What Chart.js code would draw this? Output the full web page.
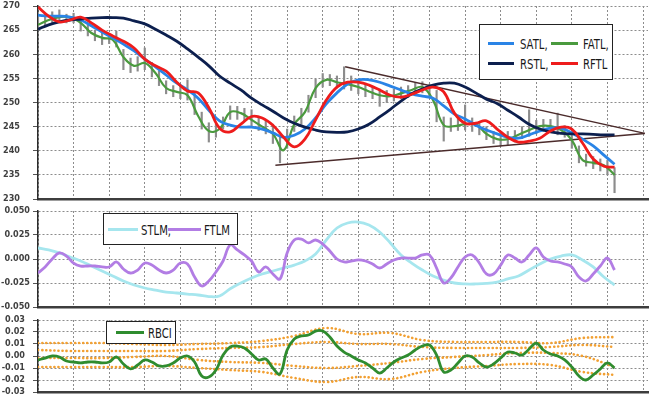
<!DOCTYPE html>
<html>
<head>
<meta charset="utf-8">
<script src="https://cdn.jsdelivr.net/npm/chart.js@4.4.1/dist/chart.umd.min.js"></script>
<style>
  html, body { margin: 0; padding: 0; background: #fff; }
  #wrap { position: relative; width: 650px; height: 397px; overflow: hidden; }
  #wrap canvas { position: absolute; left: 0; }
  .legend {
    position: absolute; background: #fff; border: 1px solid #222; box-sizing: border-box;
    font-family: 'Liberation Sans Narrow', 'DejaVu Sans Condensed', sans-serif;
    font-size: 14px; color: #1a1a1a;
  }
  .item { position: absolute; white-space: nowrap; height: 14px; line-height: 14px; }
  .swatch { position: absolute; top: 5px; height: 3px; }
  .label { position: absolute; top: 0; transform: scaleX(0.8); transform-origin: left center; }
</style>
</head>
<body>
<div id="wrap">
  <canvas id="price" width="650" height="205" style="top:0;"></canvas>
  <canvas id="momentum" width="650" height="107" style="top:205px;"></canvas>
  <canvas id="rbci" width="650" height="85" style="top:312px;"></canvas>

  <div class="legend" style="left:479px;top:24px;width:134px;height:56px;">
    <div class="item" style="left:8px;top:12px;"><span class="swatch" style="left:0;width:26px;background:#2a84e6;"></span><span class="label" style="left:32px;">SATL,</span></div>
    <div class="item" style="left:71px;top:12px;"><span class="swatch" style="left:0;width:27px;background:#4a9a3e;"></span><span class="label" style="left:32px;">FATL,</span></div>
    <div class="item" style="left:8px;top:32px;"><span class="swatch" style="left:0;width:26px;background:#0c1f4e;"></span><span class="label" style="left:32px;">RSTL,</span></div>
    <div class="item" style="left:71px;top:32px;"><span class="swatch" style="left:0;width:27px;background:#ee1c1c;"></span><span class="label" style="left:32px;">RFTL</span></div>
  </div>

  <div class="legend" style="left:103px;top:213px;width:135px;height:32px;">
    <div class="item" style="left:4px;top:9px;"><span class="swatch" style="left:0;width:30px;background:#a6e6ee;"></span><span class="label" style="left:33px;">STLM,</span></div>
    <div class="item" style="left:64px;top:9px;"><span class="swatch" style="left:0;width:33px;background:#b27de4;"></span><span class="label" style="left:36px;">FTLM</span></div>
  </div>

  <div class="legend" style="left:106px;top:321px;width:70px;height:23px;">
    <div class="item" style="left:9px;top:4px;"><span class="swatch" style="left:0;width:28px;background:#2f8c2f;"></span><span class="label" style="left:32px;">RBCI</span></div>
  </div>
</div>

<script>
// ---- price panel (bars every 2 units, lines every 3 units) ----
const BAR_STEP = 2;
const LINE_STEP = 3;
const BAND_STEP = 9;

const PRICE_HIGH = [268.0, 268.5, 268.8, 269.2, 268.3, 268.5, 267.3, 266.2, 265.0, 264.5,
  264.3, 264.8, 261.0, 259.2, 259.5, 261.3, 258.3, 256.5, 254.5, 253.5,
  253.5, 254.7, 252.0, 248.0, 245.8, 245.5, 247.0, 249.3, 249.2, 248.8,
  248.5, 247.0, 246.2, 245.5, 243.0, 244.5, 247.2, 248.8, 251.5, 254.8,
  256.0, 255.8, 255.5, 257.4, 255.5, 254.5, 254.0, 253.2, 252.8, 252.5,
  252.8, 253.2, 253.5, 254.0, 254.3, 253.8, 252.5, 247.0, 246.8, 246.5,
  249.5, 246.8, 246.0, 245.0, 244.0, 243.8, 244.0, 244.2, 245.0, 248.5,
  246.3, 246.5, 246.5, 247.8, 245.2, 244.0, 241.0, 239.3, 238.8, 238.3,
  238.0, 236.5];
const PRICE_LOW = [265.0, 266.0, 266.5, 266.8, 266.5, 266.5, 264.8, 263.8, 262.8, 262.0,
  262.2, 261.5, 256.8, 256.2, 256.5, 256.8, 255.3, 253.5, 251.8, 251.2,
  250.8, 250.5, 247.5, 244.5, 241.8, 242.8, 244.5, 246.5, 246.5, 246.2,
  245.0, 244.2, 243.5, 241.5, 237.5, 240.5, 244.0, 245.5, 248.0, 251.0,
  253.2, 253.5, 253.0, 252.8, 252.5, 251.8, 251.2, 250.8, 249.2, 250.0,
  250.3, 250.8, 251.0, 251.5, 252.0, 251.3, 246.0, 242.0, 244.0, 244.2,
  244.3, 244.0, 243.3, 242.3, 241.5, 241.0, 241.2, 241.8, 242.5, 243.0,
  243.5, 244.0, 244.0, 243.3, 242.8, 240.5, 237.5, 236.8, 236.3, 235.8,
  235.0, 231.3];

const FATL = [266.1, 267.1, 267.7, 267.7, 266.5, 264.4, 263.4, 263.0, 259.4, 257.6,
  258.2, 256.1, 253.0, 252.2, 251.5, 247.2, 244.1, 244.5, 248.0, 247.8,
  246.4, 245.0, 243.5, 240.1, 245.5, 248.0, 253.0, 254.7, 254.2, 253.8,
  253.2, 252.3, 251.5, 251.3, 251.9, 252.6, 253.2, 250.5, 245.3, 245.1,
  245.5, 245.5, 243.5, 242.4, 242.4, 243.3, 244.3, 245.1, 245.1, 244.3,
  242.2, 238.1, 237.5, 237.0, 235.0];
const SATL = [268.1, 267.9, 267.9, 267.7, 267.1, 265.9, 264.6, 263.4, 262.1, 260.7,
  259.0, 257.4, 255.7, 254.0, 252.6, 250.9, 248.4, 246.2, 245.3, 244.9,
  244.9, 244.5, 243.7, 242.8, 243.2, 244.5, 246.8, 249.7, 252.0, 253.8,
  254.7, 254.7, 254.2, 253.4, 252.6, 251.8, 251.3, 250.9, 249.3, 247.6,
  246.6, 245.3, 244.3, 243.5, 242.8, 242.6, 243.3, 244.1, 244.7, 244.7,
  243.7, 242.4, 241.0, 239.1, 237.2];
const RSTL = [265.2, 266.1, 266.7, 267.1, 267.3, 267.5, 267.6, 267.6, 267.5, 266.9,
  266.3, 265.2, 264.0, 262.7, 261.1, 259.4, 257.6, 255.5, 254.0, 252.6,
  250.9, 249.5, 248.2, 246.8, 245.7, 244.9, 244.3, 243.9, 243.8, 243.9,
  244.5, 245.5, 247.0, 248.6, 250.3, 251.8, 252.8, 253.6, 254.0, 254.0,
  253.2, 252.0, 250.7, 249.8, 248.4, 247.0, 245.5, 244.5, 243.9, 243.6,
  243.5, 243.5, 243.4, 243.3, 243.3];
const RFTL = [269.8, 267.9, 266.7, 267.1, 267.7, 266.5, 265.0, 263.8, 262.7, 261.3,
  259.0, 257.6, 256.5, 254.2, 252.4, 252.0, 248.9, 244.7, 243.9, 245.5,
  247.1, 246.8, 245.3, 242.8, 240.8, 242.4, 246.4, 250.5, 253.2, 254.2,
  254.2, 253.6, 252.6, 251.5, 251.1, 251.7, 252.6, 253.2, 252.2, 247.8,
  245.7, 245.7, 246.2, 244.5, 242.8, 241.8, 242.0, 242.6, 244.1, 244.9,
  244.5, 241.6, 238.3, 236.8, 236.6];

// triangle drawn on the price panel: [x, price] end points
const TRI_UPPER = [[86.3, 257.4], [170.5, 243.6]];
const TRI_LOWER = [[66.7, 237.0], [170.5, 243.6]];

// ---- momentum panel ----
const STLM = [0.0115, 0.0094, 0.0063, 0.0021, -0.0021, -0.0073, -0.0125, -0.0177, -0.0229, -0.0271,
  -0.0302, -0.0323, -0.0344, -0.0354, -0.0365, -0.0375, -0.0391, -0.0385, -0.0310, -0.0250,
  -0.0198, -0.0156, -0.0125, -0.0094, -0.0063, -0.0021, 0.0052, 0.0198, 0.0323, 0.0375,
  0.0385, 0.0354, 0.0281, 0.0167, 0.0042, -0.0042, -0.0115, -0.0177, -0.0219, -0.0250,
  -0.0260, -0.0260, -0.0255, -0.0240, -0.0208, -0.0177, -0.0115, -0.0052, 0.0, 0.0031,
  0.0042, -0.0010, -0.0083, -0.0188, -0.0271];
const FTLM = [-0.0146, -0.0083, 0.0, 0.0063, 0.0031, -0.0042, -0.0073, -0.0073, -0.0073, -0.0083,
  -0.0083, -0.0031, -0.0104, -0.0146, -0.0115, -0.0042, -0.0063, -0.0115, -0.0146, -0.0115,
  -0.0042, -0.0052, -0.0188, -0.0281, -0.0229, -0.0135, -0.0021, 0.0146, 0.0094, 0.0042,
  -0.0021, -0.0135, -0.0083, -0.0156, -0.0208, 0.0063, 0.0198, 0.0208, 0.0167, 0.0198,
  0.0156, 0.0083, 0.0, -0.0031, -0.0021, -0.0010, -0.0021, -0.0052, -0.0094, -0.0052,
  -0.0010, 0.0010, 0.0010, 0.0010, 0.0042, 0.0042, -0.0094, -0.0250, -0.0198, -0.0083,
  0.0021, 0.0042, -0.0042, -0.0156, -0.0156, -0.0063, 0.0042, 0.0010, -0.0031, 0.0042,
  0.0115, 0.0021, -0.0021, -0.0031, -0.0052, -0.0083, -0.0188, -0.0229, -0.0156, -0.0073,
  0.0010, -0.0115];

// ---- RBCI panel ----
const RBCI = [-0.0033, -0.0017, 0.0, -0.0008, -0.0042, -0.0050, -0.0058, -0.0050, -0.0050, -0.0058,
  -0.0050, -0.0008, -0.0067, -0.0108, -0.0075, -0.0033, -0.0050, -0.0083, -0.0083, -0.0058,
  -0.0017, 0.0, -0.0050, -0.0167, -0.0175, -0.0117, 0.0008, 0.0075, 0.0083, 0.0067,
  0.0017, -0.0033, -0.0025, -0.0100, -0.0150, 0.0050, 0.0142, 0.0167, 0.0175, 0.0208,
  0.0208, 0.0158, 0.0083, 0.0033, 0.0, -0.0033, -0.0058, -0.0100, -0.0142, -0.0100,
  -0.0050, -0.0017, 0.0008, 0.0050, 0.0083, 0.0092, 0.0008, -0.0133, -0.0117, -0.0058,
  0.0, -0.0008, -0.0058, -0.0092, -0.0067, -0.0017, 0.0033, 0.0025, 0.0008, 0.0058,
  0.0108, 0.0050, 0.0017, 0.0, -0.0033, -0.0092, -0.0167, -0.0200, -0.0158, -0.0108,
  -0.0058, -0.0100];
const BAND_1 = [0.0108, 0.0108, 0.0108, 0.0100, 0.0092, 0.0100, 0.0108, 0.0125, 0.0167, 0.0233,
  0.0183, 0.0192, 0.0133, 0.0117, 0.0117, 0.0117, 0.0108, 0.0150, 0.0158];
const BAND_2 = [0.0050, 0.0042, 0.0042, 0.0042, 0.0042, 0.0058, 0.0067, 0.0075, 0.0100, 0.0117,
  0.0100, 0.0100, 0.0075, 0.0067, 0.0067, 0.0067, 0.0075, 0.0092, 0.0075];
const BAND_3 = [-0.0017, -0.0017, -0.0017, -0.0008, 0.0, -0.0033, -0.0050, -0.0058, -0.0083, -0.0100,
  -0.0083, -0.0058, -0.0025, -0.0008, 0.0008, 0.0025, 0.0025, 0.0, -0.0092];
const BAND_4 = [-0.0092, -0.0092, -0.0092, -0.0092, -0.0083, -0.0100, -0.0117, -0.0133, -0.0183, -0.0217,
  -0.0175, -0.0192, -0.0133, -0.0100, -0.0083, -0.0067, -0.0075, -0.0133, -0.0158];

// ---- axes ----
const X_MAX = 171.4;
const X_GRID = [0, 10, 20, 30, 40, 50, 60, 70, 80, 90, 100, 110, 120, 130, 140, 150, 160, 170];
const PRICE_TICKS = [230, 235, 240, 245, 250, 255, 260, 265, 270];
const MOM_TICKS = [-0.05, -0.025, 0, 0.025, 0.05];
const RBCI_TICKS = [-0.03, -0.02, -0.01, 0, 0.01, 0.02, 0.03];

const AXIS_WIDTH = 38;
const GRID_COLOR = '#8c8c8c';
const TICK_FONT = { family: "'DejaVu Sans Condensed', 'Liberation Sans Narrow', sans-serif", size: 9, weight: 'bold', lineHeight: 1 };

function series(values, step) {
  return values.map((v, i) => ({ x: i * step, y: v }));
}

function lineSet(values, step, color, width, order) {
  return {
    type: 'line', data: series(values, step), borderColor: color, borderWidth: width,
    pointRadius: 0, tension: 0.4, fill: false, order: order
  };
}

function dottedBand(values) {
  return {
    type: 'line', data: series(values, BAND_STEP), borderColor: '#f2a032', borderWidth: 2.6,
    borderDash: [0.1, 4], borderCapStyle: 'round', pointRadius: 0, tension: 0.4, fill: false, order: 5
  };
}

function buildOptions(ticks, digits, labelPad, padTop, padBottom) {
  return {
    responsive: false,
    animation: false,
    layout: { padding: { left: 0, right: 2, top: padTop, bottom: padBottom } },
    plugins: { legend: { display: false }, tooltip: { enabled: false } },
    scales: {
      x: {
        type: 'linear', min: 0, max: X_MAX, offset: false,
        afterBuildTicks: (scale) => { scale.ticks = X_GRID.map(v => ({ value: v })); },
        ticks: { display: false },
        grid: { color: GRID_COLOR, lineWidth: 1, drawTicks: false, offset: false },
        border: { display: true, color: '#3d3d3d', width: 2.5, dash: [2, 2] }
      },
      y: {
        min: ticks[0], max: ticks[ticks.length - 1],
        afterBuildTicks: (scale) => { scale.ticks = ticks.map(v => ({ value: v })); },
        afterFit: (scale) => { scale.width = AXIS_WIDTH; scale.paddingTop = 0; scale.paddingBottom = 0; },
        ticks: {
          color: '#404040', font: TICK_FONT, padding: labelPad,
          callback: (v) => Number(v).toFixed(digits)
        },
        grid: { color: GRID_COLOR, lineWidth: 1, tickLength: 5, tickColor: '#555', tickWidth: 1 },
        border: { display: true, color: '#2b2b2b', width: 1.5, dash: [2, 2] }
      }
    }
  };
}

new Chart(document.getElementById('price'), {
  type: 'line',
  data: {
    datasets: [
      lineSet(RFTL, LINE_STEP, '#ee1c1c', 2.8, 1),
      lineSet(RSTL, LINE_STEP, '#0c1f4e', 2.8, 2),
      lineSet(SATL, LINE_STEP, '#2a84e6', 2.8, 3),
      lineSet(FATL, LINE_STEP, '#4a9a3e', 2.2, 4),
      {
        type: 'line', data: TRI_UPPER.map(p => ({ x: p[0], y: p[1] })), borderColor: '#4b2b2b',
        borderWidth: 1.5, pointRadius: 0, tension: 0, order: 5
      },
      {
        type: 'line', data: TRI_LOWER.map(p => ({ x: p[0], y: p[1] })), borderColor: '#4b2b2b',
        borderWidth: 1.5, pointRadius: 0, tension: 0, order: 5
      },
      {
        type: 'bar', data: PRICE_HIGH.map((h, i) => ({ x: i * BAR_STEP, y: [PRICE_LOW[i], h] })),
        backgroundColor: '#8c8c8c', barThickness: 1.5, grouped: false, order: 6
      }
    ]
  },
  options: buildOptions(PRICE_TICKS, 0, 13, 6, 6)
});

new Chart(document.getElementById('momentum'), {
  type: 'line',
  data: {
    datasets: [
      lineSet(FTLM, BAR_STEP, '#b27de4', 2.8, 1),
      lineSet(STLM, LINE_STEP, '#a6e6ee', 2.8, 2)
    ]
  },
  options: buildOptions(MOM_TICKS, 3, 3, 6, 5)
});

new Chart(document.getElementById('rbci'), {
  type: 'line',
  data: {
    datasets: [
      lineSet(RBCI, BAR_STEP, '#2f8c2f', 2.8, 1),
      dottedBand(BAND_1),
      dottedBand(BAND_2),
      dottedBand(BAND_3),
      dottedBand(BAND_4)
    ]
  },
  options: buildOptions(RBCI_TICKS, 2, 8, 8, 5)
});
</script>
</body>
</html>
